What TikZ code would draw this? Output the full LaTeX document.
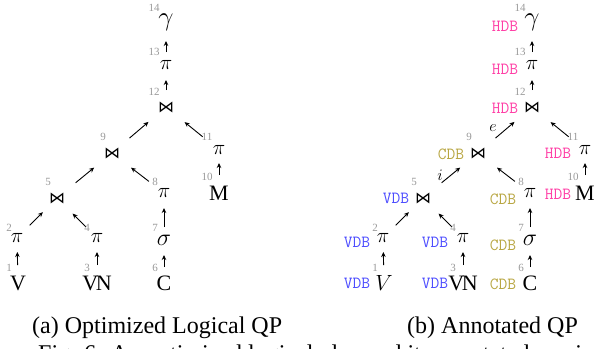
\RequirePackage{fix-cm}
\documentclass[tikz,border=0pt]{standalone}
\usepackage{fontspec}
\setmainfont{Liberation Serif}
\newfontfamily\joinfont{DejaVu Sans}
\usetikzlibrary{arrows.meta}

\definecolor{numgray}{HTML}{999999}
\definecolor{vdbblue}{HTML}{4D4DFF}
\definecolor{cdbolive}{HTML}{B8A642}
\definecolor{hdbpink}{HTML}{FF3FA6}

\tikzset{
  opnode/.style={inner sep=0pt, anchor=center},
  gammasym/.style={opnode, font=\fontsize{27}{29}\selectfont},
  pisym/.style={opnode, font=\fontsize{21}{23}\selectfont},
  sigmasym/.style={opnode, font=\fontsize{24}{26}\selectfont},
  joinsym/.style={opnode, font=\joinfont\fontsize{16}{18}\selectfont},
  relsym/.style={opnode, font=\fontsize{22}{24}\selectfont},
  num/.style={inner sep=0pt, anchor=center, text=numgray, font=\fontsize{11}{12}\selectfont},
  dbtag/.style={inner sep=0pt, anchor=center, font=\ttfamily\fontsize{17}{19}\selectfont},
  vdb/.style={dbtag, text=vdbblue},
  cdb/.style={dbtag, text=cdbolive},
  hdb/.style={dbtag, text=hdbpink},
  elab/.style={inner sep=0pt, anchor=center, font=\fontsize{16}{18}\selectfont},
  arr/.style={line width=0.9pt, -{Stealth[length=5pt,width=4.5pt]}},
  capt/.style={inner sep=0pt, anchor=base west, font=\fontsize{24}{28}\selectfont},
}

% One query plan tree: #1 name prefix, #2 horizontal shift, #3 text of leaf 1
\newcommand\qptree[3]{%
\begin{scope}[xshift=#2]
  \node[gammasym] (#1n14) at (166,22)  {$\gamma$};
  \node[pisym]    (#1n13) at (166,65)  {$\pi$};
  \node[joinsym]  (#1n12) at (166,107) {⋈};
  \node[joinsym]  (#1n9)  at (112,153) {⋈};
  \node[pisym]    (#1n11) at (219,150) {$\pi$};
  \node[relsym]   (#1n10) at (219,193) {M};
  \node[joinsym]  (#1n5)  at (57,198)  {⋈};
  \node[pisym]    (#1n8)  at (164,193) {$\pi$};
  \node[pisym]    (#1n2)  at (17,238)  {$\pi$};
  \node[pisym]    (#1n4)  at (97,238)  {$\pi$};
  \node[sigmasym] (#1n7)  at (164,240) {$\sigma$};
  \node[relsym]   (#1n1)  at (18,283)  {#3};
  \node[relsym]   (#1n3)  at (97,283)  {V\kern-2.5pt N};
  \node[relsym]   (#1n6)  at (164,283) {C};
  % operator numbers
  \node[num] (#1k14) at (154,8)   {14};
  \node[num] (#1k13) at (154,52)  {13};
  \node[num] (#1k12) at (154,92)  {12};
  \node[num] (#1k9)  at (103,137) {9};
  \node[num] (#1k11) at (207,137) {11};
  \node[num] (#1k10) at (207,177) {10};
  \node[num] (#1k5)  at (48,182)  {5};
  \node[num] (#1k8)  at (155,182) {8};
  \node[num] (#1k2)  at (9,228)   {2};
  \node[num] (#1k4)  at (87,228)  {4};
  \node[num] (#1k7)  at (155,228) {7};
  \node[num] (#1k1)  at (9,268)   {1};
  \node[num] (#1k3)  at (87,268)  {3};
  \node[num] (#1k6)  at (155,268) {6};
  % data flow, bottom up
  \draw[arr, shorten <=13pt, shorten >=19pt] (#1n13.center) -- (#1n14.center);
  \draw[arr, shorten <=17pt, shorten >=15pt] (#1n12.center) -- (#1n13.center);
  \draw[arr, shorten <=23pt, shorten >=23pt] (#1n9.center)  -- (#1n12.center);
  \draw[arr, shorten <=21pt, shorten >=24pt] (#1n11.center) -- (#1n12.center);
  \draw[arr, shorten <=24pt, shorten >=23pt] (#1n5.center)  -- (#1n9.center);
  \draw[arr, shorten <=19pt, shorten >=24pt] (#1n8.center)  -- (#1n9.center);
  \draw[arr, shorten <=18pt, shorten >=20pt] (#1n2.center)  -- (#1n5.center);
  \draw[arr, shorten <=16pt, shorten >=22pt] (#1n4.center)  -- (#1n5.center);
  \draw[arr, shorten <=13pt, shorten >=15pt] (#1n7.center)  -- (#1n8.center);
  \draw[arr, shorten <=18pt, shorten >=13pt] (#1n10.center) -- (#1n11.center);
  \draw[arr, shorten <=18pt, shorten >=14pt] (#1n1.center)  -- (#1n2.center);
  \draw[arr, shorten <=18pt, shorten >=14pt] (#1n3.center)  -- (#1n4.center);
  \draw[arr, shorten <=16pt, shorten >=15pt] (#1n6.center)  -- (#1n7.center);
\end{scope}}

\begin{document}
\begin{tikzpicture}[x=1pt, y=-1pt]
  \useasboundingbox (0,0) rectangle (596,348);

  % (a) logical plan
  \qptree{a}{0pt}{V}

  % (b) annotated plan
  \qptree{b}{366pt}{$V$}
  \node[hdb] (bt14) at (505,26)  {HDB};
  \node[hdb] (bt13) at (505,69)  {HDB};
  \node[hdb] (bt12) at (505,108) {HDB};
  \node[cdb] (bt9)  at (451,154) {CDB};
  \node[hdb] (bt11) at (558,153) {HDB};
  \node[hdb] (bt10) at (558,194) {HDB};
  \node[vdb] (bt5)  at (396,198) {VDB};
  \node[cdb] (bt8)  at (503,199) {CDB};
  \node[vdb] (bt2)  at (357,242) {VDB};
  \node[vdb] (bt4)  at (435,242) {VDB};
  \node[cdb] (bt7)  at (503,245) {CDB};
  \node[vdb] (bt1)  at (357,283) {VDB};
  \node[vdb] (bt3)  at (435,283) {VDB};
  \node[cdb] (bt6)  at (503,284) {CDB};
  \node[elab] (be) at (493,128) {$e$};
  \node[elab] (bi) at (440,175) {$i$};

  % sub-captions
  \node[capt] (capa) at (32,333)  {(a) Optimized Logical QP};
  \node[capt] (capb) at (407,333) {(b) Annotated QP};
  \begin{scope}
    \clip (0,0) rectangle (596,348);
    \node[capt] (figcap) at (38,361) {Fig. 6: An optimized logical plan and its annotated version};
  \end{scope}
\end{tikzpicture}
\end{document}
